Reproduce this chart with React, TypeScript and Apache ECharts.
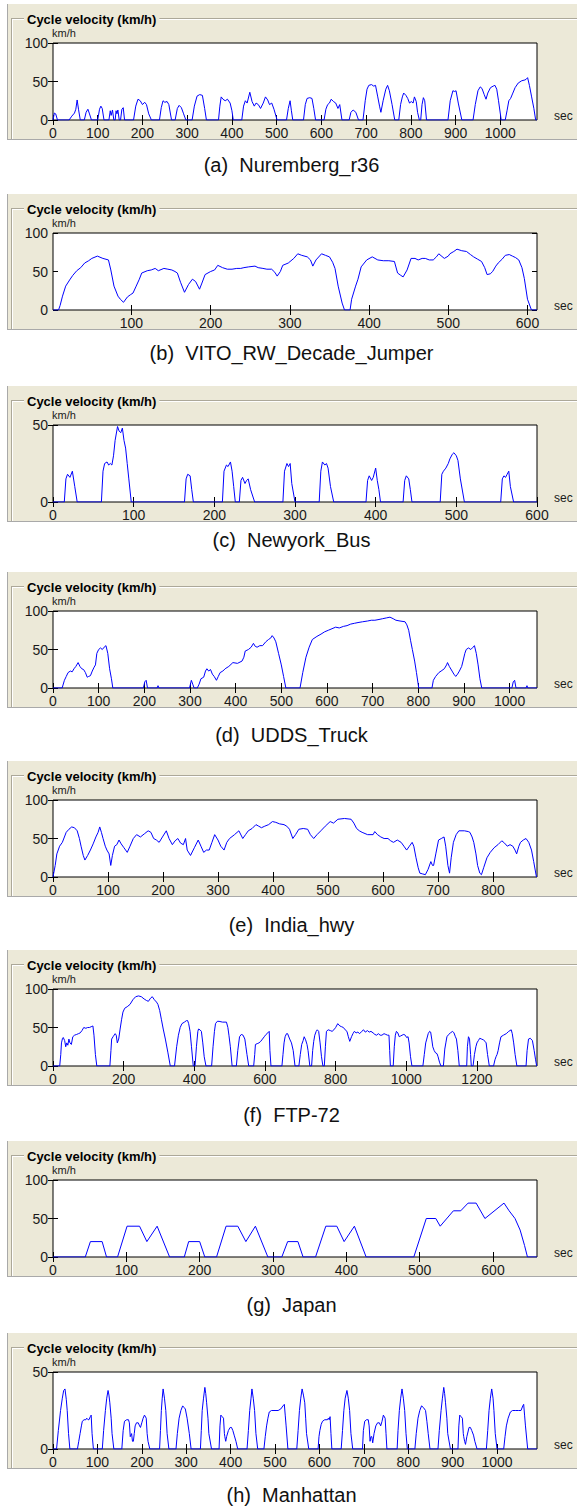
import React, { useEffect, useRef } from 'react';
import * as echarts from 'echarts';

// ---------- data: [time (sec), velocity (km/h)] ----------
const nurembergR36: number[][] = [
  [0,0],[3,9],[6,8],[10,0],
  [36,0],[42,5],[48,9],[51,14],[54,26],[57,14],[61,0],
  [70,0],[74,10],[78,14],[81,9],[86,0],
  [100,0],[104,14],[107,18],[110,15],[114,0],
  [125,0],[128,12],[130,6],[133,13],[136,0],[139,0],[141,12],[143,8],[145,13],[148,0],
  [151,0],[154,14],[157,16],[160,0],
  [180,0],[185,18],[190,27],[195,25],[200,20],[205,23],[209,20],[214,8],[220,0],
  [238,0],[242,16],[246,25],[250,23],[255,24],[259,20],[265,0],
  [273,0],[278,15],[282,19],[287,16],[292,8],[297,0],
  [311,0],[316,18],[322,31],[328,33],[334,32],[339,15],[343,0],
  [370,0],[373,18],[376,30],[380,27],[385,25],[390,27],[396,22],[400,12],[403,0],
  [422,0],[426,18],[430,25],[434,22],[440,36],[445,24],[450,18],[454,22],[459,20],[464,15],[470,22],[475,30],[480,26],[484,20],[489,22],[494,14],[501,0],
  [522,0],[526,15],[530,25],[533,12],[536,0],
  [560,0],[564,20],[568,28],[574,29],[579,28],[583,15],[587,0],
  [606,0],[610,14],[614,20],[618,22],[622,27],[627,24],[632,22],[637,15],[641,20],[646,0],
  [662,0],[666,10],[671,13],[677,10],[683,0],
  [693,0],[698,25],[702,40],[706,45],[712,46],[717,44],[721,45],[726,30],[730,18],[733,10],[738,25],[744,40],[748,45],[752,38],[758,20],[764,0],
  [773,0],[777,20],[781,30],[784,35],[789,32],[793,28],[797,22],[801,24],[805,22],[808,30],[812,24],[815,10],[819,0],
  [822,0],[825,20],[828,29],[831,25],[835,0],
  [883,0],[888,25],[894,38],[898,37],[901,38],[906,22],[914,0],
  [939,0],[944,20],[950,38],[955,43],[959,41],[964,33],[968,27],[972,35],[978,42],[984,44],[988,45],[992,40],[996,25],[1002,0],
  [1011,0],[1015,12],[1019,25],[1023,28],[1028,35],[1033,42],[1040,48],[1048,51],[1055,52],[1058,53],[1061,55],[1065,45],[1070,30],[1075,15],[1079,0],[1082,0],
];

const vitoRwDecadeJumper: number[][] = [
  [1,0],[8,0],[10,6],[13,18],[17,31],[22,39],[26,45],[31,51],[36,55],[41,61],[46,64],[50,67],[57,70],[64,67],[71,65],[74,52],[78,31],[83,18],[86,14],[90,10],[95,17],[99,20],[102,22],[106,31],[110,40],[113,48],[120,51],[125,52],[130,54],[134,51],[141,54],[146,53],[151,52],[155,50],[158,48],[162,36],[167,23],[172,33],[177,40],[181,37],[186,27],[189,35],[193,46],[200,50],[205,52],[209,58],[215,55],[221,53],[227,53],[233,54],[238,54],[242,55],[248,56],[256,57],[260,55],[266,54],[271,53],[277,53],[281,49],[284,44],[288,50],[291,58],[298,61],[305,67],[310,73],[315,71],[322,69],[326,65],[329,57],[333,65],[340,73],[345,71],[350,69],[354,62],[357,54],[361,31],[366,9],[369,0],[376,0],[378,14],[383,31],[386,40],[390,56],[397,65],[404,69],[411,65],[418,64],[425,64],[432,63],[436,48],[440,45],[443,43],[448,52],[453,67],[458,67],[462,65],[467,67],[471,67],[476,65],[481,65],[485,69],[488,73],[495,67],[500,70],[502,73],[507,76],[511,79],[517,77],[523,76],[528,72],[532,69],[537,66],[542,63],[546,55],[549,46],[553,47],[556,50],[560,57],[563,61],[568,66],[572,71],[577,72],[581,70],[585,68],[589,65],[593,55],[596,41],[600,14],[605,0],[612,0],
];

const newyorkBus: number[][] = [
  [0,0],[14,0],[16,15],[18,18],[21,16],[24,20],[27,10],[30,0],
  [60,0],[62,20],[64,25],[67,26],[69,24],[71,25],[73,24],[75,30],[77,40],[80,49],[82,46],[84,45],[86,48],[88,40],[90,35],[92,25],[94,15],[97,0],
  [163,0],[165,15],[167,18],[170,17],[172,8],[174,0],
  [210,0],[212,20],[215,24],[217,23],[220,26],[222,20],[224,10],[226,0],
  [231,0],[233,14],[235,16],[238,12],[240,14],[242,15],[245,8],[250,0],
  [285,0],[287,20],[290,25],[292,23],[294,25],[296,12],[300,0],
  [330,0],[332,20],[334,26],[337,24],[339,25],[341,22],[344,10],[348,0],
  [388,0],[390,14],[392,17],[395,14],[397,16],[400,22],[402,14],[404,8],[406,0],
  [434,0],[436,14],[438,17],[441,15],[443,8],[445,0],
  [480,0],[482,18],[484,20],[487,22],[490,25],[492,28],[495,31],[497,32],[500,30],[502,27],[505,15],[510,0],
  [555,0],[557,15],[559,17],[561,16],[563,18],[565,20],[567,10],[571,0],[600,0],
];

const uddsTruck: number[][] = [
  [0,0],[20,0],[25,10],[29,15],[33,20],[38,22],[42,21],[46,25],[50,28],[55,33],[59,28],[63,25],[67,24],[71,20],[75,14],[78,15],[82,16],[86,22],[90,27],[93,30],[96,45],[100,50],[104,52],[108,50],[112,53],[116,55],[120,45],[124,25],[128,12],[131,0],
  [198,0],[201,8],[204,10],[207,0],
  [228,0],[230,3],[232,0],
  [299,0],[303,10],[306,5],[309,0],
  [316,0],[320,5],[324,12],[330,14],[334,22],[337,25],[341,22],[345,24],[349,18],[353,15],[358,10],[362,15],[366,20],[372,22],[377,25],[385,28],[394,33],[404,32],[414,35],[418,40],[421,48],[428,50],[434,53],[439,58],[443,54],[447,53],[453,55],[459,55],[466,60],[472,63],[477,65],[480,68],[484,65],[488,60],[494,45],[500,30],[505,15],[510,0],
  [541,0],[547,20],[554,40],[561,53],[568,63],[578,67],[587,70],[595,73],[603,75],[611,77],[619,79],[627,78],[636,80],[644,81],[652,83],[660,84],[668,85],[678,86],[689,87],[697,88],[705,88],[714,89],[722,90],[730,91],[738,92],[745,90],[751,88],[760,87],[771,86],[775,82],[779,75],[783,62],[787,50],[792,35],[796,20],[801,0],
  [830,0],[833,10],[838,15],[845,20],[850,22],[857,25],[862,30],[864,33],[868,28],[874,22],[878,18],[882,15],[886,18],[890,22],[895,28],[898,35],[902,45],[905,50],[910,52],[915,50],[920,53],[923,55],[927,45],[931,30],[935,12],[939,0],
  [1005,0],[1008,8],[1011,10],[1014,0],
  [1036,0],[1038,3],[1040,0],[1060,0],
];

const indiaHwy: number[][] = [
  [0,0],[4,15],[7,30],[12,40],[17,45],[24,58],[29,62],[34,65],[39,64],[44,60],[48,50],[51,40],[55,28],[58,22],[63,28],[68,35],[73,43],[78,52],[82,58],[85,65],[88,58],[91,50],[95,40],[98,35],[102,30],[105,15],[108,28],[112,40],[116,42],[120,48],[124,43],[129,38],[135,32],[140,40],[146,50],[152,55],[159,52],[166,56],[173,60],[178,58],[183,50],[188,48],[193,45],[199,52],[206,60],[211,50],[217,42],[222,47],[227,50],[232,44],[237,42],[241,50],[244,35],[250,28],[257,38],[264,48],[269,40],[274,32],[279,35],[284,35],[289,45],[294,55],[300,48],[305,40],[311,35],[316,45],[321,50],[330,55],[338,60],[345,50],[350,55],[355,60],[362,63],[369,68],[374,66],[379,64],[385,66],[392,68],[399,72],[405,71],[412,69],[420,68],[425,66],[430,62],[436,50],[441,55],[447,62],[455,63],[463,62],[468,55],[474,50],[480,55],[487,60],[495,66],[504,72],[510,70],[518,75],[530,76],[542,75],[547,70],[552,63],[557,60],[562,58],[572,55],[582,55],[585,59],[590,55],[596,52],[602,50],[609,50],[614,47],[619,45],[626,48],[633,45],[638,40],[643,35],[648,40],[653,45],[656,40],[660,25],[664,12],[667,5],[672,4],[677,3],[682,10],[687,20],[690,15],[692,15],[696,30],[701,48],[706,50],[711,52],[714,40],[718,15],[721,5],[724,25],[728,45],[733,55],[738,60],[748,60],[755,59],[758,58],[762,52],[765,45],[769,30],[772,15],[776,5],[779,3],[783,12],[789,25],[795,32],[802,38],[809,42],[816,47],[821,44],[826,40],[831,42],[836,40],[840,35],[843,30],[847,40],[850,45],[855,48],[860,50],[865,45],[870,35],[874,20],[879,0],
];

const ftp72: number[][] = [
  [0,0],[19,0],[22,15],[24,30],[27,36],[29,37],[33,33],[36,25],[39,30],[42,27],[45,35],[48,30],[52,28],[56,38],[61,40],[67,41],[72,42],[77,43],[82,46],[87,50],[93,49],[98,50],[103,50],[108,51],[113,52],[116,40],[120,15],[124,0],
  [161,0],[164,20],[166,35],[170,38],[176,42],[179,40],[182,30],[186,35],[190,48],[194,60],[198,70],[203,75],[210,77],[218,80],[226,86],[234,90],[242,91],[250,90],[258,87],[265,85],[270,84],[276,88],[281,90],[287,86],[293,83],[297,80],[302,72],[307,60],[312,48],[318,35],[325,18],[332,0],
  [344,0],[350,25],[355,40],[360,50],[365,55],[372,57],[378,59],[381,59],[384,55],[388,45],[392,25],[397,0],
  [402,0],[406,25],[410,45],[412,48],[416,47],[420,45],[424,30],[428,12],[433,0],
  [449,0],[453,25],[457,45],[460,55],[465,58],[470,58],[480,57],[491,57],[495,50],[498,40],[502,25],[507,0],
  [519,0],[523,20],[528,38],[533,41],[538,40],[543,35],[546,25],[549,15],[554,0],
  [568,0],[571,15],[573,28],[578,29],[583,30],[588,32],[593,35],[598,38],[603,41],[608,43],[612,45],[614,20],[617,0],
  [648,0],[651,15],[654,30],[657,38],[661,42],[664,42],[670,35],[675,30],[680,20],[685,0],
  [696,0],[700,15],[704,28],[708,33],[711,38],[715,34],[719,28],[722,20],[727,0],
  [732,0],[735,20],[738,32],[741,40],[745,45],[748,47],[752,45],[756,30],[760,12],[764,0],
  [768,0],[771,25],[774,45],[779,47],[785,46],[790,45],[795,47],[800,50],[806,55],[812,52],[817,51],[822,50],[827,47],[832,45],[836,38],[840,32],[845,38],[849,42],[853,45],[858,43],[863,44],[868,42],[874,45],[879,47],[884,44],[890,46],[895,44],[900,45],[906,43],[911,41],[916,40],[921,42],[926,40],[931,40],[937,42],[942,41],[947,40],[951,40],[953,20],[955,0],
  [963,0],[966,25],[969,40],[972,45],[976,43],[980,38],[984,39],[988,40],[993,41],[997,40],[1001,37],[1005,38],[1008,30],[1012,12],[1016,0],
  [1047,0],[1051,15],[1055,30],[1058,35],[1062,42],[1066,45],[1069,44],[1072,35],[1075,25],[1079,20],[1083,17],[1087,16],[1090,12],[1094,5],[1098,0],
  [1105,0],[1109,22],[1112,30],[1115,38],[1120,41],[1125,43],[1131,45],[1135,43],[1139,38],[1142,35],[1146,20],[1150,0],
  [1171,0],[1173,25],[1176,38],[1179,35],[1182,15],[1184,0],
  [1189,0],[1193,15],[1197,25],[1200,30],[1204,33],[1208,36],[1213,35],[1218,34],[1223,32],[1226,30],[1230,15],[1235,0],
  [1247,0],[1251,8],[1254,12],[1257,15],[1260,20],[1264,30],[1268,38],[1275,40],[1283,42],[1290,45],[1297,47],[1300,42],[1304,30],[1308,15],[1313,0],
  [1339,0],[1342,20],[1346,35],[1351,36],[1357,33],[1362,20],[1366,8],[1369,0],[1370,0],
];

const japan: number[][] = [
  [0,0],[44,0],[51,20],[67,20],[73,0],[88,0],[101,40],[118,40],[128,20],[142,40],[159,0],
  [179,0],[185,20],[200,20],[207,0],[223,0],[236,40],[252,40],[263,20],[276,40],[293,0],
  [312,0],[320,20],[334,20],[341,0],[358,0],[372,40],[387,40],[397,20],[411,40],[427,0],
  [492,0],[509,50],[522,50],[528,40],[546,60],[556,60],[566,70],[577,70],[589,50],[615,70],[622,60],[630,50],[637,35],[643,15],[647,0],[660,0],
];

const manhattan: number[][] = [
  [0,0],[8,0],[12,12],[17,25],[21,33],[24,38],[27,39],[30,32],[32,25],[35,10],[38,0],
  [55,0],[58,5],[61,10],[64,15],[66,18],[70,19],[74,19],[76,20],[79,19],[81,19],[84,21],[86,22],[88,10],[91,0],
  [111,0],[114,12],[118,25],[121,33],[124,38],[126,35],[128,30],[131,20],[133,10],[137,0],
  [155,0],[158,12],[161,18],[166,19],[170,19],[172,17],[174,8],[177,10],[179,5],[181,5],[183,10],[185,15],[188,17],[192,17],[195,15],[197,14],[200,17],[203,20],[206,22],[210,20],[212,10],[214,5],[218,0],
  [240,0],[242,12],[244,25],[246,33],[248,39],[251,33],[254,25],[257,10],[261,0],
  [277,0],[280,10],[284,20],[288,25],[292,28],[295,27],[298,26],[302,20],[307,10],[311,0],
  [332,0],[334,12],[336,25],[339,33],[342,40],[344,36],[346,30],[349,20],[351,10],[357,0],
  [374,0],[376,15],[378,22],[381,21],[384,20],[386,10],[387,8],[389,5],[391,8],[395,12],[399,14],[402,14],[405,12],[408,9],[412,5],[416,0],
  [437,0],[440,12],[443,25],[446,33],[448,39],[451,33],[454,25],[457,10],[461,0],
  [475,0],[478,8],[481,15],[484,20],[487,24],[492,25],[500,25],[507,25],[513,26],[518,28],[521,29],[523,22],[525,15],[529,0],
  [549,0],[552,12],[555,25],[558,33],[561,39],[564,35],[567,30],[569,20],[571,10],[576,0],
  [597,0],[599,8],[601,12],[604,16],[607,18],[612,19],[618,19],[620,20],[622,19],[624,21],[626,10],[628,0],
  [649,0],[652,12],[655,25],[658,33],[662,38],[665,33],[668,25],[671,10],[675,0],
  [697,0],[699,12],[702,18],[706,19],[710,19],[712,15],[714,5],[716,8],[718,8],[720,4],[723,10],[727,15],[731,17],[735,17],[738,15],[741,18],[744,22],[748,20],[750,10],[752,0],
  [775,0],[777,12],[780,25],[783,33],[786,39],[789,33],[792,25],[795,10],[798,0],
  [815,0],[818,10],[822,20],[826,25],[830,28],[834,27],[839,25],[842,18],[845,10],[849,0],
  [867,0],[870,12],[874,25],[877,33],[880,40],[882,36],[884,30],[887,20],[889,10],[895,0],
  [912,0],[914,15],[916,22],[919,21],[922,20],[924,10],[925,8],[927,5],[929,3],[932,8],[937,14],[940,14],[943,12],[947,9],[950,5],[955,0],
  [976,0],[979,12],[982,25],[985,33],[988,39],[991,33],[993,25],[996,10],[1000,0],
  [1015,0],[1018,8],[1021,15],[1025,20],[1030,24],[1035,25],[1041,25],[1048,25],[1054,25],[1058,28],[1060,29],[1062,22],[1064,15],[1069,0],[1090,0],
];

// ---------- captions, axis ranges, tick labels ----------
const captions = [
  '(a)  Nuremberg_r36',
  '(b)  VITO_RW_Decade_Jumper',
  '(c)  Newyork_Bus',
  '(d)  UDDS_Truck',
  '(e)  India_hwy',
  '(f)  FTP-72',
  '(g)  Japan',
  '(h)  Manhattan',
];
const cycles = [nurembergR36, vitoRwDecadeJumper, newyorkBus, uddsTruck, indiaHwy, ftp72, japan, manhattan];
const xMins = [0, 1, 0, 0, 0, 0, 0, 0];
const xMaxs = [1082, 612, 600, 1060, 880, 1370, 660, 1090];
const xTicks = [
  [0, 100, 200, 300, 400, 500, 600, 700, 800, 900, 1000],
  [100, 200, 300, 400, 500, 600],
  [0, 100, 200, 300, 400, 500, 600],
  [0, 100, 200, 300, 400, 500, 600, 700, 800, 900, 1000],
  [0, 100, 200, 300, 400, 500, 600, 700, 800],
  [0, 200, 400, 600, 800, 1000, 1200],
  [0, 100, 200, 300, 400, 500, 600],
  [0, 100, 200, 300, 400, 500, 600, 700, 800, 900, 1000],
];
const yMaxs = [100, 100, 50, 100, 100, 100, 100, 50];
const yTicks100 = [0, 50, 100];
const yTicks50 = [0, 50];
const panelTitle = 'Cycle velocity (km/h)';
const yUnit = 'km/h';
const xUnit = 'sec';

// ---------- layout ----------
const plotTops = [43, 233, 425, 611, 800, 989, 1180, 1372];
const captionYs = [165, 353, 540, 735, 925, 1115, 1305, 1495];
const PLOT_LEFT = 53;
const PLOT_W = 484;
const PLOT_H = 77;
const BEIGE = '#ECE9D8';
const FONT = '"Liberation Sans", Arial, sans-serif';

export default function App() {
  const ref = useRef<HTMLDivElement>(null);
  useEffect(() => {
    if (!ref.current) return;
    const chart = echarts.init(ref.current, undefined, { renderer: 'svg' });

    const grid: any[] = [];
    const xAxis: any[] = [];
    const yAxis: any[] = [];
    const series: any[] = [];
    const graphic: any[] = [];
    const plain = (v: number) => String(v);

    cycles.forEach((data, i) => {
      const T = plotTops[i];
      grid.push({
        left: PLOT_LEFT, top: T, width: PLOT_W, height: PLOT_H,
        show: true, backgroundColor: '#ffffff', borderColor: '#000000', borderWidth: 1,
      });
      const yt = yMaxs[i] === 100 ? yTicks100 : yTicks50;
      const common = {
        gridIndex: i, type: 'value', min: xMins[i], max: xMaxs[i],
        axisLine: { show: false }, splitLine: { show: false },
      };
      xAxis.push({
        ...common, position: 'bottom',
        axisTick: { show: true, inside: true, length: 5, customValues: xTicks[i], lineStyle: { color: '#000', width: 1 } },
        axisLabel: {
          show: true, customValues: xTicks[i], formatter: plain, fontSize: 14, color: '#1a1a1a', fontFamily: FONT, margin: 6,
          showMinLabel: true, showMaxLabel: true,
        },
      });
      xAxis.push({
        ...common, position: 'top',
        axisTick: { show: true, inside: true, length: 5, customValues: xTicks[i], lineStyle: { color: '#000', width: 1 } },
        axisLabel: { show: false },
      });
      const ycommon = {
        gridIndex: i, type: 'value', min: 0, max: yMaxs[i],
        axisLine: { show: false }, splitLine: { show: false },
      };
      yAxis.push({
        ...ycommon, position: 'left',
        axisTick: { show: true, inside: true, length: 5, customValues: yt, lineStyle: { color: '#000', width: 1 } },
        axisLabel: { show: true, customValues: yt, formatter: plain, fontSize: 14, color: '#1a1a1a', fontFamily: FONT, margin: 5, showMinLabel: true, showMaxLabel: true },
      });
      yAxis.push({
        ...ycommon, position: 'right',
        axisTick: { show: true, inside: true, length: 5, customValues: yt, lineStyle: { color: '#000', width: 1 } },
        axisLabel: { show: false },
      });
      series.push({
        type: 'line', xAxisIndex: 2 * i, yAxisIndex: 2 * i, data,
        showSymbol: false, symbol: 'none', smooth: false,
        lineStyle: { color: '#0000ff', width: 1 }, z: 5,
      });

      const top = T - 39;
      const bottom = T + 97;
      const lineY = T - 24;
      graphic.push(
        { type: 'rect', z: -10, silent: true, shape: { x: 7, y: top, width: 570, height: bottom - top }, style: { fill: BEIGE } },
        { type: 'line', z: -9, silent: true, shape: { x1: 7.5, y1: top, x2: 7.5, y2: bottom }, style: { stroke: '#a9a9a9', lineWidth: 1 } },
        { type: 'line', z: -9, silent: true, shape: { x1: 7, y1: bottom - 0.5, x2: 577, y2: bottom - 0.5 }, style: { stroke: '#a9a9a9', lineWidth: 1 } },
        { type: 'line', z: -9, silent: true, shape: { x1: 11, y1: lineY - 0.5, x2: 577, y2: lineY - 0.5 }, style: { stroke: '#aca899', lineWidth: 1 } },
        { type: 'line', z: -9, silent: true, shape: { x1: 12, y1: lineY + 0.5, x2: 577, y2: lineY + 0.5 }, style: { stroke: '#ffffff', lineWidth: 1 } },
        { type: 'line', z: -9, silent: true, shape: { x1: 11.5, y1: lineY - 1, x2: 11.5, y2: bottom - 1 }, style: { stroke: '#aca899', lineWidth: 1 } },
        { type: 'line', z: -9, silent: true, shape: { x1: 12.5, y1: lineY, x2: 12.5, y2: bottom - 1 }, style: { stroke: '#ffffff', lineWidth: 1 } },
        {
          type: 'text', z: 10, silent: true, x: 24, y: lineY,
          style: {
            text: panelTitle, fill: '#000', font: `bold 13px ${FONT}`,
            verticalAlign: 'middle', align: 'left', backgroundColor: BEIGE, padding: [1, 3, 1, 3],
          },
        },
        {
          type: 'text', z: 10, silent: true, x: 52, y: T - 10,
          style: { text: yUnit, fill: '#1a1a1a', font: `11px ${FONT}`, verticalAlign: 'middle', align: 'left' },
        },
        {
          type: 'text', z: 10, silent: true, x: 554, y: T + 73,
          style: { text: xUnit, fill: '#1a1a1a', font: `12px ${FONT}`, verticalAlign: 'middle', align: 'left' },
        },
        {
          type: 'text', z: 10, silent: true, x: 291.5, y: captionYs[i],
          style: { text: captions[i], fill: '#111', font: `20px ${FONT}`, verticalAlign: 'middle', align: 'center' },
        },
      );
    });

    chart.setOption({
      animation: false,
      backgroundColor: '#ffffff',
      grid, xAxis, yAxis, series, graphic,
    });
    return () => chart.dispose();
  }, []);

  return (
    <div
      ref={ref}
      style={{ position: 'absolute', left: 0, top: 0, width: 583, height: 1507 }}
    />
  );
}
